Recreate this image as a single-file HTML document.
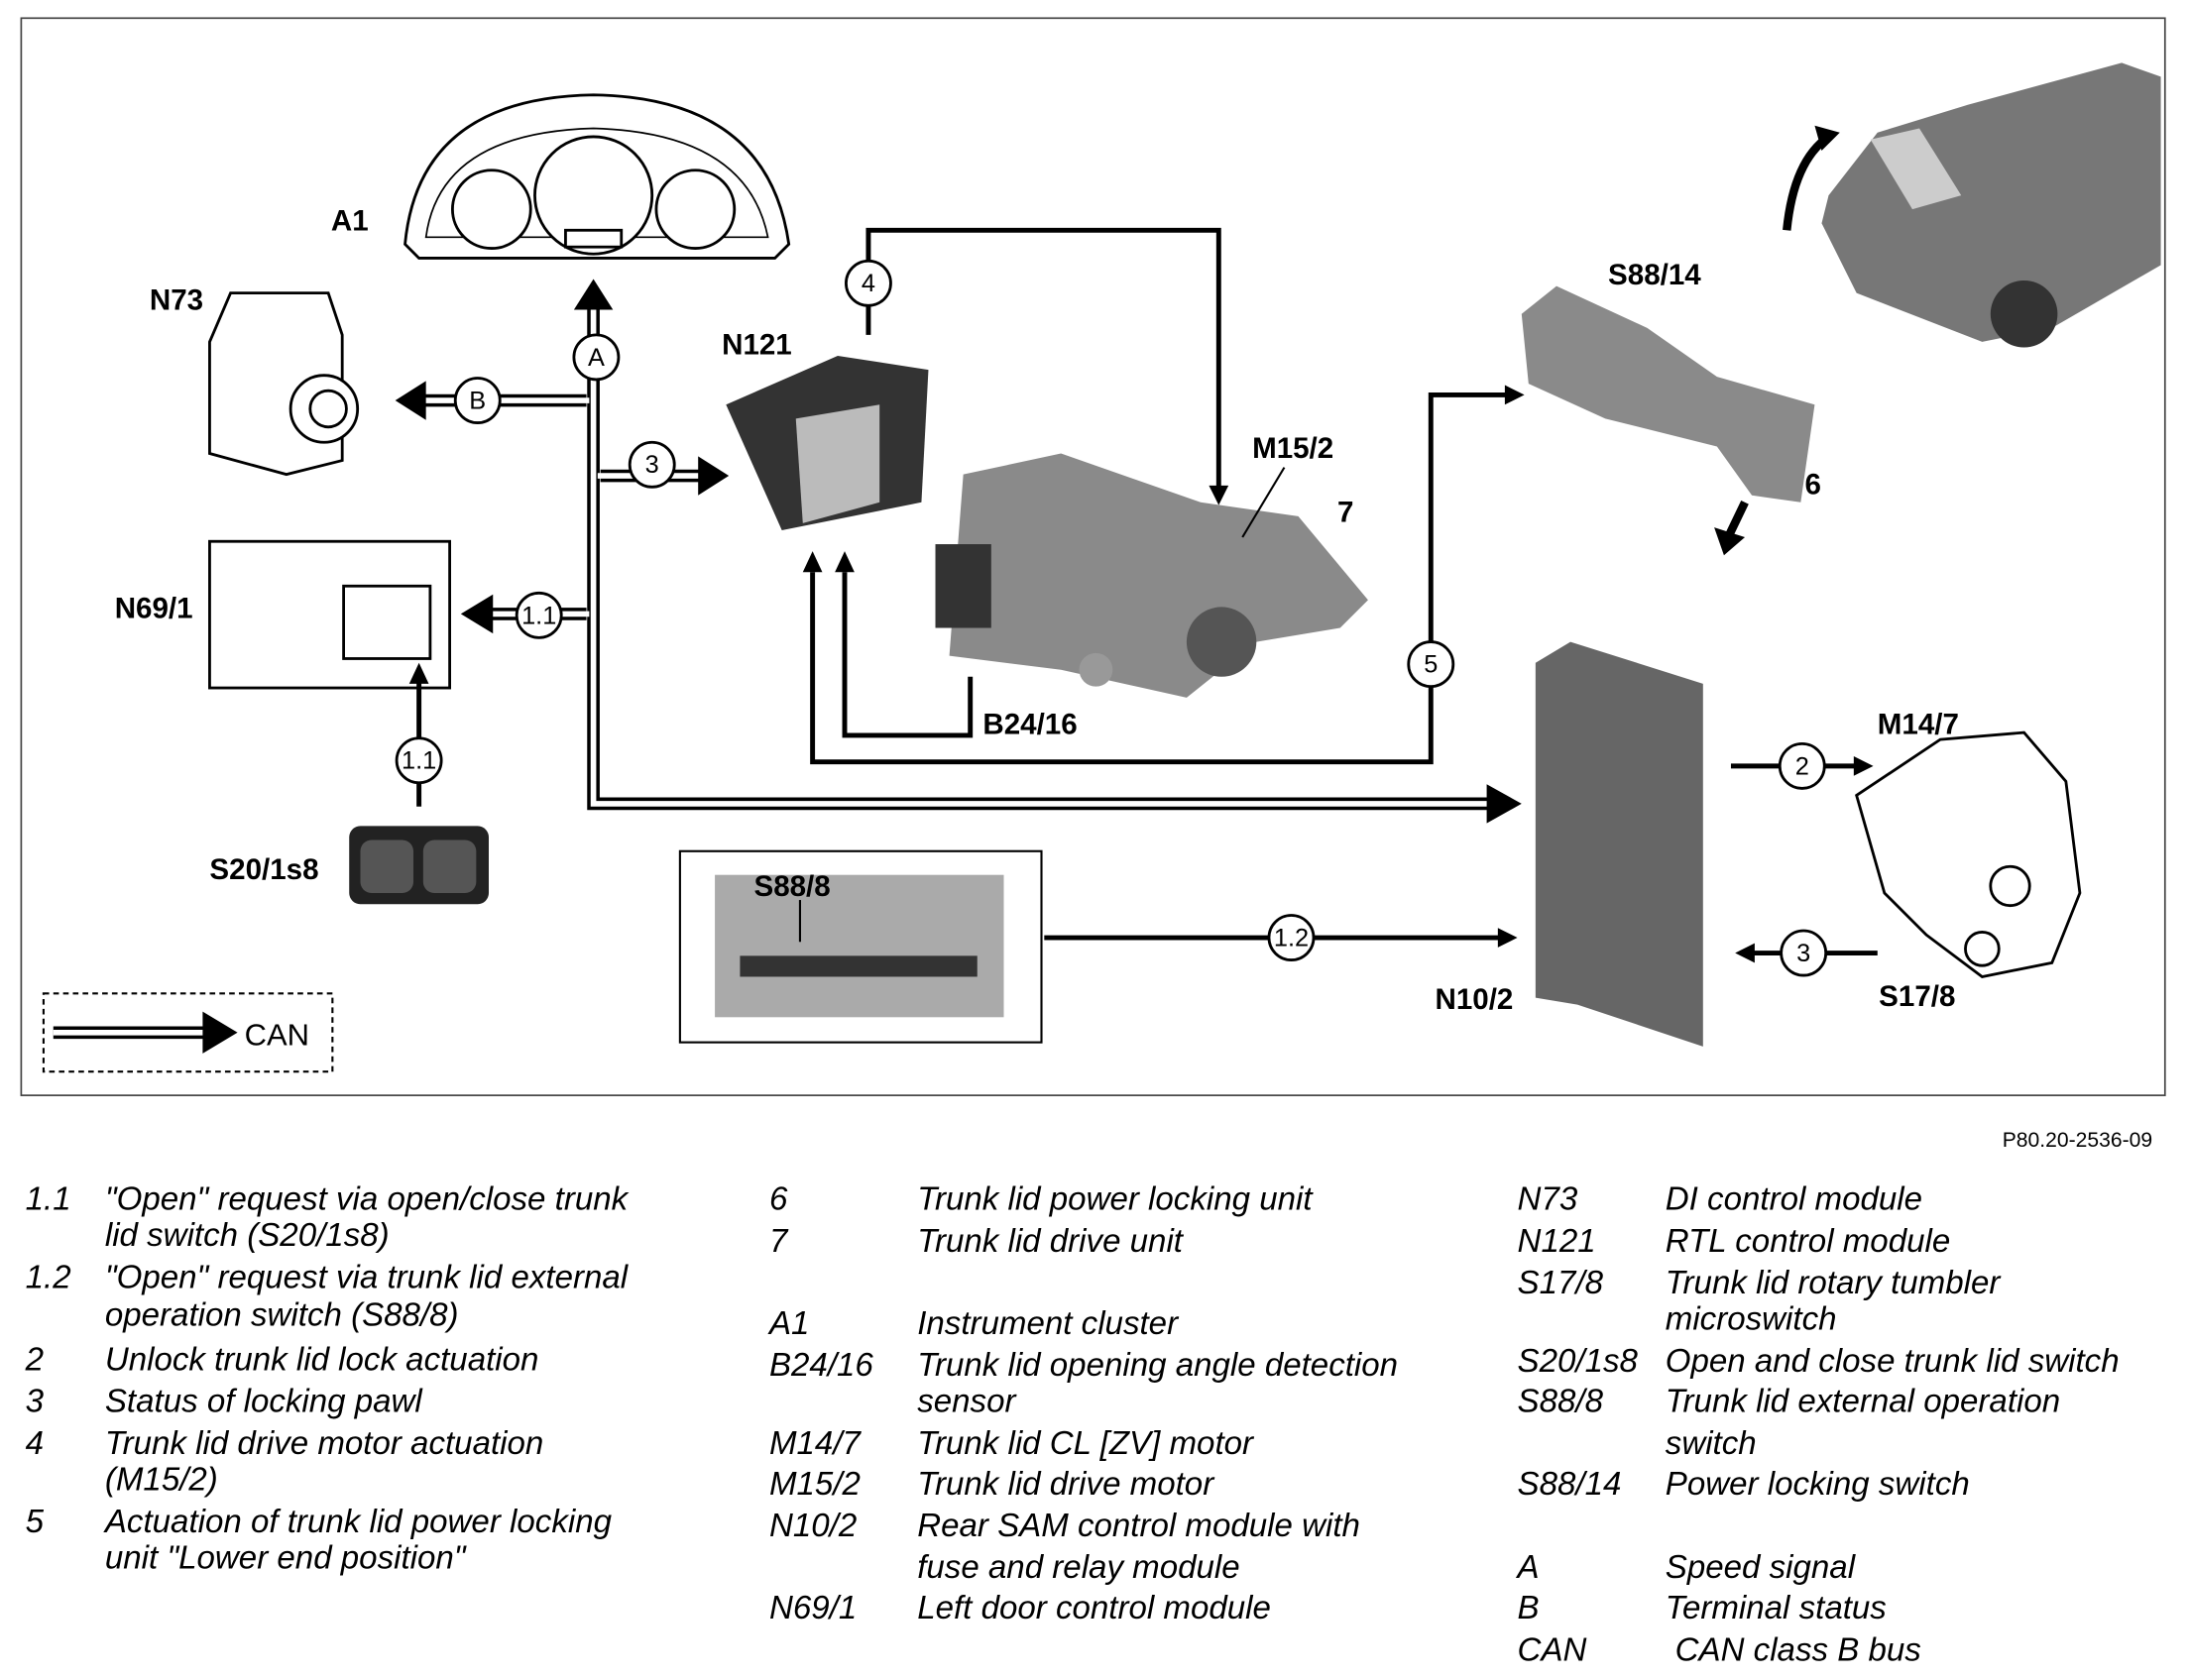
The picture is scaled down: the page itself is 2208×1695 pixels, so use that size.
<!DOCTYPE html>
<html><head><meta charset="utf-8"><style>
html,body{margin:0;padding:0;background:#fff}
svg{display:block}
text{font-family:"Liberation Sans",sans-serif}
.lg{font-size:23.5px;font-style:italic}
.lb{font-size:21px;font-weight:bold}
</style></head><body>
<svg width="2208" height="1695" viewBox="0 0 1568 1204" xmlns="http://www.w3.org/2000/svg">
<rect x="15" y="13" width="1536" height="772" fill="#fff" stroke="#444" stroke-width="1.2"/>

<!-- instrument cluster A1 -->
<g fill="#fff" stroke="#000" stroke-width="2">
<path d="M290,175 Q300,70 425,68 Q550,70 565,175 L555,185 L300,185 Z"/>
<path d="M305,170 Q315,95 425,92 Q535,95 550,170 Z" fill="none" stroke-width="1.2"/>
<circle cx="352" cy="150" r="28"/><circle cx="425" cy="140" r="42"/><circle cx="498" cy="150" r="28"/>
<rect x="405" y="165" width="40" height="12"/>
</g>
<text class="lb" x="237" y="165">A1</text>

<!-- N73 -->
<g fill="#fff" stroke="#000" stroke-width="2">
<path d="M150,245 L165,210 L235,210 L245,240 L245,330 L205,340 L150,325 Z"/>
<circle cx="232" cy="293" r="24"/><circle cx="235" cy="293" r="13"/>
</g>
<text class="lb" x="107" y="222">N73</text>

<!-- N69/1 -->
<g fill="#fff" stroke="#000" stroke-width="2">
<rect x="150" y="388" width="172" height="105"/>
<rect x="246" y="420" width="62" height="52"/>
</g>
<text class="lb" x="82" y="443">N69/1</text>

<!-- S20/1s8 -->
<rect x="250" y="592" width="100" height="56" rx="8" fill="#222"/>
<rect x="258" y="602" width="38" height="38" rx="8" fill="#555"/><rect x="303" y="602" width="38" height="38" rx="8" fill="#555"/>
<text class="lb" x="150" y="630">S20/1s8</text>

<!-- N121 and drive unit -->
<path d="M520,290 L600,255 L665,265 L660,360 L560,380 Z" fill="#333"/>
<path d="M570,300 L630,290 L630,360 L575,375 Z" fill="#bbb"/>
<path d="M690,340 L760,325 L860,360 L930,370 L980,430 L960,450 L900,460 L850,500 L760,480 L680,470 Z" fill="#8a8a8a"/>
<circle cx="875" cy="460" r="25" fill="#555"/><circle cx="785" cy="480" r="12" fill="#999"/>
<rect x="670" y="390" width="40" height="60" fill="#333"/>
<text class="lb" x="517" y="254">N121</text>
<text class="lb" x="897" y="328">M15/2</text>
<text class="lb" x="958" y="374">7</text>
<line x1="890" y1="385" x2="920" y2="335" stroke="#000" stroke-width="1.5"/>
<text class="lb" x="704" y="526">B24/16</text>

<!-- S88/14 -->
<path d="M1090,225 L1115,205 L1180,235 L1230,270 L1300,290 L1290,360 L1255,355 L1230,320 L1150,300 L1095,275 Z" fill="#8a8a8a"/>
<text class="lb" x="1152" y="204">S88/14</text>
<text class="lb" x="1293" y="354">6</text>
<path d="M1250,360 L1238,385" stroke="#000" stroke-width="6"/><path d="M1228,378 L1235,398 L1250,385 Z" fill="#000"/>

<!-- car -->
<path d="M1310,140 L1345,95 L1410,75 L1520,45 L1548,55 L1548,190 L1470,235 L1420,245 L1330,210 L1305,160 Z" fill="#777"/>
<path d="M1340,100 L1375,92 L1405,140 L1370,150 Z" fill="#ccc"/>
<circle cx="1450" cy="225" r="24" fill="#333"/>
<path d="M1280,165 Q1285,115 1310,98" fill="none" stroke="#000" stroke-width="6"/>
<path d="M1300,90 L1318,95 L1305,108 Z" fill="#000"/>

<!-- N10/2 -->
<path d="M1100,475 L1125,460 L1220,490 L1220,750 L1130,720 L1100,715 Z" fill="#666"/>
<text class="lb" x="1028" y="723">N10/2</text>

<!-- M14/7 -->
<g fill="#fff" stroke="#000" stroke-width="2">
<path d="M1330,570 L1390,530 L1450,525 L1480,560 L1490,640 L1470,690 L1420,700 L1380,670 L1350,640 Z"/>
<circle cx="1440" cy="635" r="14"/><circle cx="1420" cy="680" r="12"/>
</g>
<text class="lb" x="1345" y="526">M14/7</text>
<text class="lb" x="1346" y="721">S17/8</text>

<!-- S88/8 -->
<rect x="487" y="610" width="259" height="137" fill="#fff" stroke="#000" stroke-width="1.5"/>
<rect x="512" y="627" width="207" height="102" fill="#aaa"/>
<rect x="530" y="685" width="170" height="15" fill="#333"/>
<text class="lb" x="540" y="642">S88/8</text>
<line x1="573" y1="645" x2="573" y2="675" stroke="#000" stroke-width="1.5"/>

<!-- CAN buses -->
<g fill="none" stroke="#000" stroke-width="9">
<path d="M425,215 L425,576 L1068,576"/>
<path d="M420,287 L300,287"/><path d="M420,440 L350,440"/><path d="M430,341 L505,341"/>
</g>
<g fill="none" stroke="#fff" stroke-width="4">
<path d="M425,215 L425,576 L1068,576"/>
<path d="M422,287 L300,287"/><path d="M422,440 L350,440"/><path d="M428,341 L505,341"/>
</g>
<path d="M1065,562 L1090,576 L1065,590 Z"/>
<path d="M305,273 L283,287 L305,301 Z"/>
<path d="M353,426 L330,440 L353,454 Z"/>
<path d="M500,327 L522,341 L500,355 Z"/>
<path d="M411,222 L425,200 L439,222 Z"/>

<!-- single lines -->
<g fill="none" stroke="#000" stroke-width="3.5">
<path d="M622,240 L622,165 L873,165 L873,352"/>
<path d="M582,410 L582,546 L1025,546 L1025,283 L1080,283"/>
<path d="M605,410 L605,527 L695,527 L695,485"/>
<path d="M748,672 L1075,672"/>
<path d="M1240,549 L1330,549"/>
<path d="M1345,683 L1255,683"/>
<path d="M300,578 L300,488"/>
</g>
<g>
<path d="M866,348 L873,362 L880,348 Z"/>
<path d="M575,410 L582,395 L589,410 Z"/><path d="M598,410 L605,395 L612,410 Z"/>
<path d="M1078,276 L1092,283 L1078,290 Z"/>
<path d="M1073,665 L1087,672 L1073,679 Z"/>
<path d="M1328,542 L1342,549 L1328,556 Z"/>
<path d="M1257,676 L1243,683 L1257,690 Z"/>
<path d="M293,490 L300,475 L307,490 Z"/>
</g>

<!-- circled labels -->
<g fill="#fff" stroke="#000" stroke-width="2">
<circle cx="427" cy="256" r="16"/><circle cx="342" cy="287" r="16"/><circle cx="467" cy="333" r="16"/>
<circle cx="386" cy="441" r="16"/><circle cx="300" cy="545" r="16"/><circle cx="622" cy="203" r="16"/>
<circle cx="1025" cy="476" r="16"/><circle cx="1291" cy="549" r="16"/><circle cx="1292" cy="683" r="16"/>
<circle cx="925" cy="672" r="16"/>
</g>
<g font-family="Liberation Sans" font-size="18" text-anchor="middle">
<text x="427" y="262">A</text><text x="342" y="293">B</text><text x="467" y="339">3</text>
<text x="386" y="447">1.1</text><text x="300" y="551">1.1</text><text x="622" y="209">4</text>
<text x="1025" y="482">5</text><text x="1291" y="555">2</text><text x="1292" y="689">3</text>
<text x="925" y="678">1.2</text>
</g>

<!-- CAN legend box -->
<rect x="31" y="712" width="207" height="56" fill="none" stroke="#000" stroke-width="1.5" stroke-dasharray="4,3"/>
<path d="M38,740 L148,740" stroke="#000" stroke-width="9"/><path d="M38,740 L148,740" stroke="#fff" stroke-width="4"/>
<path d="M145,725 L170,740 L145,755 Z"/>
<text x="175" y="749" font-size="22">CAN</text>

<text x="1542" y="822" font-size="15" text-anchor="end">P80.20-2536-09</text>

<!-- Legend -->
<g class="lg">
<text x="18" y="867">1.1</text><text x="75" y="867">"Open" request via open/close trunk</text>
<text x="75" y="893">lid switch (S20/1s8)</text>
<text x="18" y="923">1.2</text><text x="75" y="923">"Open" request via trunk lid external</text>
<text x="75" y="950">operation switch (S88/8)</text>
<text x="18" y="982">2</text><text x="75" y="982">Unlock trunk lid lock actuation</text>
<text x="18" y="1012">3</text><text x="75" y="1012">Status of locking pawl</text>
<text x="18" y="1042">4</text><text x="75" y="1042">Trunk lid drive motor actuation</text>
<text x="75" y="1068">(M15/2)</text>
<text x="18" y="1098">5</text><text x="75" y="1098">Actuation of trunk lid power locking</text>
<text x="75" y="1124">unit "Lower end position"</text>

<text x="551" y="867">6</text><text x="657" y="867">Trunk lid power locking unit</text>
<text x="551" y="897">7</text><text x="657" y="897">Trunk lid drive unit</text>
<text x="551" y="956">A1</text><text x="657" y="956">Instrument cluster</text>
<text x="551" y="986">B24/16</text><text x="657" y="986">Trunk lid opening angle detection</text>
<text x="657" y="1012">sensor</text>
<text x="551" y="1042">M14/7</text><text x="657" y="1042">Trunk lid CL [ZV] motor</text>
<text x="551" y="1071">M15/2</text><text x="657" y="1071">Trunk lid drive motor</text>
<text x="551" y="1101">N10/2</text><text x="657" y="1101">Rear SAM control module with</text>
<text x="657" y="1131">fuse and relay module</text>
<text x="551" y="1160">N69/1</text><text x="657" y="1160">Left door control module</text>

<text x="1087" y="867">N73</text><text x="1193" y="867">DI control module</text>
<text x="1087" y="897">N121</text><text x="1193" y="897">RTL control module</text>
<text x="1087" y="927">S17/8</text><text x="1193" y="927">Trunk lid rotary tumbler</text>
<text x="1193" y="953">microswitch</text>
<text x="1087" y="983">S20/1s8</text><text x="1193" y="983">Open and close trunk lid switch</text>
<text x="1087" y="1012">S88/8</text><text x="1193" y="1012">Trunk lid external operation</text>
<text x="1193" y="1042">switch</text>
<text x="1087" y="1071">S88/14</text><text x="1193" y="1071">Power locking switch</text>
<text x="1087" y="1131">A</text><text x="1193" y="1131">Speed signal</text>
<text x="1087" y="1160">B</text><text x="1193" y="1160">Terminal status</text>
<text x="1087" y="1190">CAN</text><text x="1200" y="1190">CAN class B bus</text>
</g>
</svg>
</body></html>
